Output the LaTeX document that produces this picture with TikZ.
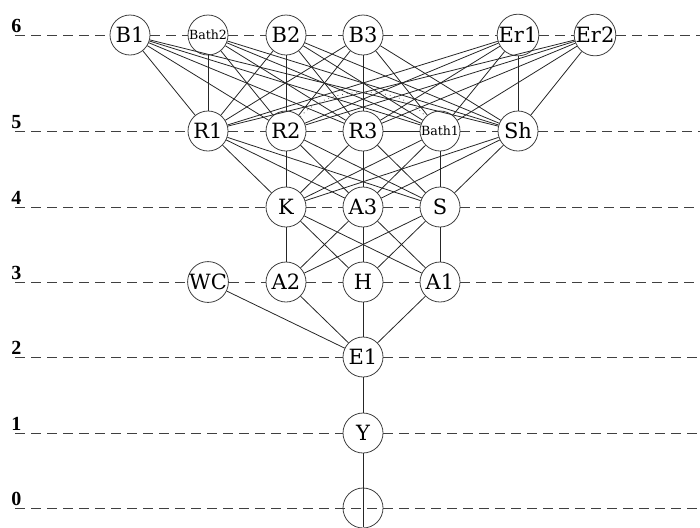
\documentclass[tikz,border=0pt]{standalone}
\usepackage{fontspec}
\setmainfont{DejaVu Serif}
\newfontfamily\labfont{Liberation Serif}
\begin{document}
\begin{tikzpicture}[x=0.5pt,y=-0.5pt,
  nd/.style={circle,draw=black!75,line width=0.4pt,fill=white,minimum size=20pt,inner sep=0pt,font=\fontsize{10.5}{12}\selectfont},
  sm/.style={nd,font=\fontsize{6.3}{7}\selectfont},
  ed/.style={draw=black!85,line width=0.4pt},
  lvl/.style={draw=black!75,line width=0.45pt,dash pattern=on 5pt off 3pt},
  lab/.style={font=\labfont\bfseries\fontsize{10}{11}\selectfont,anchor=base west,inner sep=0pt}]
\useasboundingbox (0,0) rectangle (700,527);
% nodes
\node[nd] (B1) at (130,35) {B1};
\node[sm] (Bath2) at (208,35) {Bath2};
\node[nd] (B2) at (286,35) {B2};
\node[nd] (B3) at (363,35) {B3};
\node[nd] (Er1) at (518,35) {Er1};
\node[nd] (Er2) at (595,35) {Er2};
\node[nd] (R1) at (208,131) {R1};
\node[nd] (R2) at (286,131) {R2};
\node[nd] (R3) at (363,131) {R3};
\node[sm] (Bath1) at (440,131) {Bath1};
\node[nd] (Sh) at (518,131) {Sh};
\node[nd] (K) at (286,207) {K};
\node[nd] (A3) at (363,207) {A3};
\node[nd] (S) at (440,207) {S};
\node[nd] (WC) at (208,282) {WC};
\node[nd] (A2) at (286,282) {A2};
\node[nd] (H) at (363,282) {H};
\node[nd] (A1) at (440,282) {A1};
\node[nd] (E1) at (363,357) {E1};
\node[nd] (Y) at (363,433) {Y};
\node[nd,fill=none] (O) at (363,508) {};
% level labels and line ends
\foreach \n/\y in {6/35,5/131,4/207,3/282,2/357,1/433,0/508}{
  \node[lab] (lab\n) at (11,\y-3) {\n};
  \coordinate (s\n) at (15,\y);
  \coordinate (e\n) at (700,\y);
}
\coordinate (bot) at (363,527);
% level lines
\draw[lvl] (s6) -- (B1) -- (Bath2) -- (B2) -- (B3) -- (Er1) -- (Er2) -- (e6);
\draw[lvl] (s5) -- (R1) -- (R2) -- (R3);
\draw[lvl] (Bath1) -- (Sh) -- (e5);
\draw[lvl] (s4) -- (K) -- (A3) -- (S) -- (e4);
\draw[lvl] (s3) -- (WC) -- (A2) -- (H) -- (A1) -- (e3);
\draw[lvl] (s2) -- (E1) -- (e2);
\draw[lvl] (s1) -- (Y) -- (e1);
\draw[lvl] (s0) -- (e0);
% edges level 6 - 5
\foreach \a in {B1,Bath2,B2,B3,Er1,Er2}{
  \foreach \b in {R1,R2,R3,Bath1,Sh}{
    \draw[ed] (\a) -- (\b);
  }
}
\draw[ed] (R3) -- (Bath1);
\draw[black!70,line width=0.4pt,dotted] (R2.45) .. controls (330,84) and (400,84) .. (Bath1.135);
% level 5 - 4
\foreach \a in {R1,R2,R3,Bath1,Sh}{
  \foreach \b in {K,A3,S}{
    \draw[ed] (\a) -- (\b);
  }
}
% level 4 - 3
\foreach \a in {K,A3,S}{
  \foreach \b in {A2,H,A1}{
    \draw[ed] (\a) -- (\b);
  }
}
\foreach \a in {WC,A2,H,A1}{\draw[ed] (\a) -- (E1);}
\draw[ed] (E1) -- (Y);
\draw[ed] (Y) -- (bot);
\end{tikzpicture}
\end{document}
